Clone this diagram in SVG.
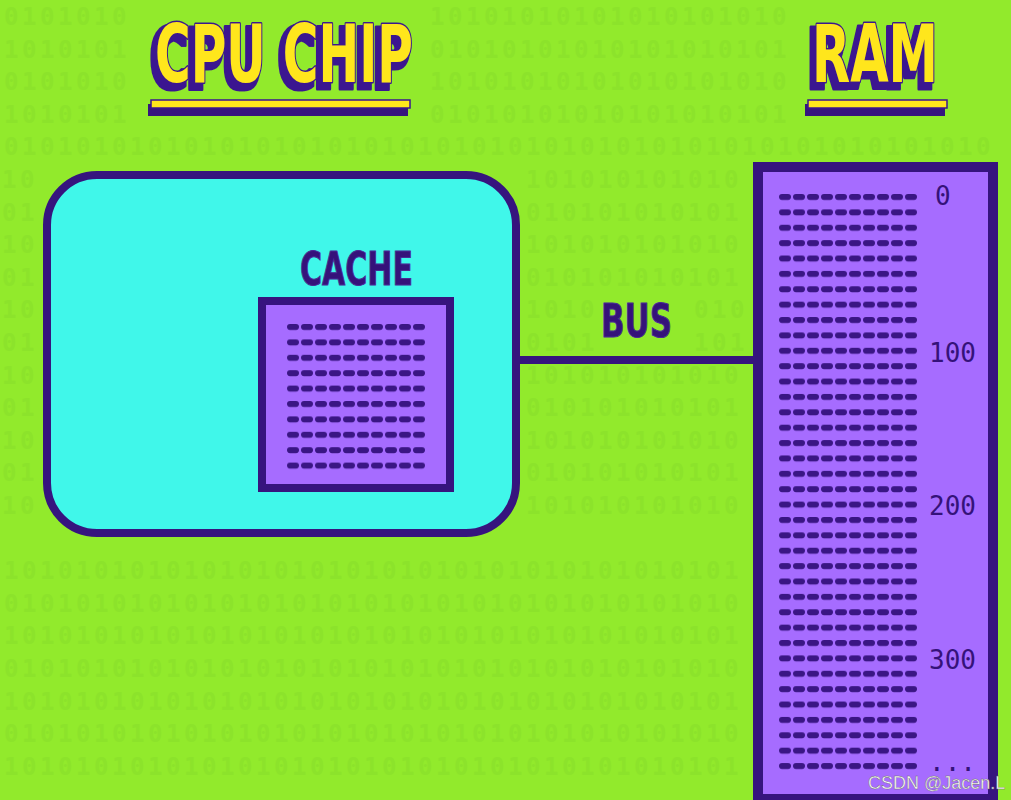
<svg xmlns="http://www.w3.org/2000/svg" width="1011" height="800" viewBox="0 0 1011 800">
<style>
.bin{font-family:"DejaVu Sans Mono","Liberation Mono",monospace;font-weight:bold;font-size:24px;letter-spacing:3.55px;fill:#8ce32b}
.ttl{font-family:"Liberation Sans Narrow","DejaVu Sans Condensed","Liberation Sans",sans-serif;font-weight:bold;font-size:80px;fill:#ffe61c;stroke:#3b1590;stroke-width:3;paint-order:stroke;stroke-linejoin:round}
.lbl{font-family:"Liberation Sans Narrow","DejaVu Sans Condensed","Liberation Sans",sans-serif;font-weight:bold;fill:#35127a;stroke:#4a2a96;stroke-width:1}
.num{font-family:"DejaVu Sans Mono","Liberation Mono",monospace;font-size:26px;fill:#35127a}
.dark{fill:#36147e}
</style>
<defs>
<filter id="tshadow" x="-10%" y="-20%" width="125%" height="150%">
<feOffset in="SourceAlpha" dx="-4" dy="5" result="o"/>
<feMorphology in="o" operator="dilate" radius="1.5" result="d"/>
<feFlood flood-color="#3b1590"/>
<feComposite in2="d" operator="in" result="s"/>
<feMerge><feMergeNode in="s"/><feMergeNode in="SourceGraphic"/></feMerge>
</filter>
<pattern id="ramDash" patternUnits="userSpaceOnUse" x="779" y="194" width="14" height="15.38">
<rect x="0" y="0" width="12" height="6" rx="3" fill="#3a1684"/>
</pattern>
<pattern id="cacheDash" patternUnits="userSpaceOnUse" x="287" y="324" width="14" height="15.4">
<rect x="0" y="0" width="12" height="6" rx="3" fill="#3a1684"/>
</pattern>
</defs>
<rect x="0" y="0" width="1011" height="800" fill="#92ea2c"/>
<g id="binary-bg">
<text class="bin" x="4" y="25">0101010</text>
<text class="bin" x="430" y="25">10101010101010101010</text>
<text class="bin" x="4" y="57.6">1010101</text>
<text class="bin" x="430" y="57.6">01010101010101010101</text>
<text class="bin" x="4" y="90.2">0101010</text>
<text class="bin" x="430" y="90.2">10101010101010101010</text>
<text class="bin" x="4" y="122.8">1010101</text>
<text class="bin" x="430" y="122.8">01010101010101010101</text>
<text class="bin" x="4" y="155.4">0101010101010101010101010101010101010101010101010101010</text>
<text class="bin" x="2" y="188">10</text>
<text class="bin" x="526" y="188">101010101010</text>
<text class="bin" x="2" y="220.6">01</text>
<text class="bin" x="526" y="220.6">010101010101</text>
<text class="bin" x="2" y="253.2">10</text>
<text class="bin" x="526" y="253.2">101010101010</text>
<text class="bin" x="2" y="285.8">01</text>
<text class="bin" x="526" y="285.8">010101010101</text>
<text class="bin" x="2" y="318.4">10</text>
<text class="bin" x="526" y="318.4">1010</text>
<text class="bin" x="694" y="318.4">010</text>
<text class="bin" x="2" y="351">01</text>
<text class="bin" x="526" y="351">0101</text>
<text class="bin" x="694" y="351">101</text>
<text class="bin" x="2" y="383.6">10</text>
<text class="bin" x="526" y="383.6">101010101010</text>
<text class="bin" x="2" y="416.2">01</text>
<text class="bin" x="526" y="416.2">010101010101</text>
<text class="bin" x="2" y="448.8">10</text>
<text class="bin" x="526" y="448.8">101010101010</text>
<text class="bin" x="2" y="481.4">01</text>
<text class="bin" x="526" y="481.4">010101010101</text>
<text class="bin" x="2" y="514">10</text>
<text class="bin" x="526" y="514">101010101010</text>
<text class="bin" x="4" y="579.2">10101010101010101010101010101010101010101</text>
<text class="bin" x="4" y="611.8">01010101010101010101010101010101010101010</text>
<text class="bin" x="4" y="644.4">10101010101010101010101010101010101010101</text>
<text class="bin" x="4" y="677">01010101010101010101010101010101010101010</text>
<text class="bin" x="4" y="709.6">10101010101010101010101010101010101010101</text>
<text class="bin" x="4" y="742.2">01010101010101010101010101010101010101010</text>
<text class="bin" x="4" y="774.8">10101010101010101010101010101010101010101</text>
</g>
<g id="title-cpu">
<rect x="148" y="104" width="260" height="12" class="dark"/>
<rect x="151" y="100" width="259" height="8" fill="#ffe61c" stroke="#3b1590" stroke-width="1.5"/>
<text class="ttl" x="155" y="82" textLength="258" lengthAdjust="spacingAndGlyphs" filter="url(#tshadow)">CPU CHIP</text>
</g>
<g id="title-ram">
<rect x="805" y="104" width="140" height="12" class="dark"/>
<rect x="808" y="100" width="139" height="8" fill="#ffe61c" stroke="#3b1590" stroke-width="1.5"/>
<text class="ttl" x="812" y="82" textLength="126" lengthAdjust="spacingAndGlyphs" filter="url(#tshadow)">RAM</text>
</g>
<g id="connectors">
<line x1="516" y1="360" x2="760" y2="360" stroke="#36147e" stroke-width="8"/>
<text class="lbl" x="601" y="337" font-size="47" textLength="71" lengthAdjust="spacingAndGlyphs">BUS</text>
</g>
<g id="cpu-chip">
<rect x="47" y="175" width="469" height="358" rx="50" fill="#40f7ea" stroke="#36147e" stroke-width="8"/>
</g>
<g id="cache">
<text class="lbl" x="300" y="285" font-size="46" textLength="113" lengthAdjust="spacingAndGlyphs">CACHE</text>
<rect x="262" y="301" width="188" height="187" fill="#a66cff" stroke="#36147e" stroke-width="8"/>
<rect x="287" y="324" width="138" height="146" fill="url(#cacheDash)"/>
</g>
<g id="ram">
<rect x="758" y="167" width="235" height="632" fill="#a66cff" stroke="#36147e" stroke-width="10"/>
<rect x="779" y="194" width="138" height="580" fill="url(#ramDash)"/>
<text class="num" x="935" y="205" font-size="22">0</text>
<text class="num" x="929" y="362">100</text>
<text class="num" x="929" y="515">200</text>
<text class="num" x="929" y="669">300</text>
<text class="num" x="929" y="771">...</text>
</g>
<text x="868" y="789" font-family="Liberation Sans, Arial, sans-serif" font-size="18" fill="#ffffff" stroke="#6a6a6a" stroke-width="0.4">CSDN @Jacen.L</text>
</svg>
